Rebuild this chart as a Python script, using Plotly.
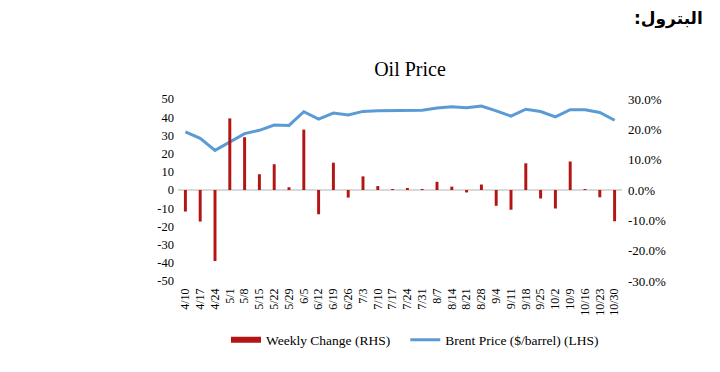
import plotly.graph_objects as go

weeks = ["4/10", "4/17", "4/24", "5/1", "5/8", "5/15", "5/22", "5/29", "6/5", "6/12",
         "6/19", "6/26", "7/3", "7/10", "7/17", "7/24", "7/31", "8/7", "8/14", "8/21",
         "8/28", "9/4", "9/11", "9/18", "9/25", "10/2", "10/9", "10/16", "10/23", "10/30"]

weekly_change = [-0.071, -0.104, -0.234, 0.236, 0.174, 0.052, 0.085, 0.009, 0.199, -0.080,
                 0.090, -0.025, 0.045, 0.013, 0.001, 0.005, 0.001, 0.027, 0.011, -0.008,
                 0.018, -0.052, -0.065, 0.088, -0.028, -0.061, 0.094, 0.001, -0.024, -0.103]

brent_price = [32.0, 28.4, 21.8, 26.6, 31.0, 32.8, 35.7, 35.5, 43.0, 39.0,
               42.3, 41.2, 43.2, 43.6, 43.8, 43.8, 43.8, 45.0, 45.7, 45.2,
               46.1, 43.5, 40.6, 44.4, 43.1, 40.2, 44.1, 44.1, 42.6, 38.3]

left_ticks = [-50, -40, -30, -20, -10, 0, 10, 20, 30, 40, 50]
left_labels = ["-50", "-40", "-30", "-20", "-10", "0", "10", "20", "30", "40", "50"]
right_ticks = [-0.3, -0.2, -0.1, 0.0, 0.1, 0.2, 0.3]
right_labels = ["-30.0%", "-20.0%", "-10.0%", "0.0%", "10.0%", "20.0%", "30.0%"]

serif = "Liberation Serif, Times New Roman, serif"
bar_color = "#B31515"
line_color = "#5B9BD5"

W, H = 712, 364  # page body has an 8px default margin

fig = go.Figure()
fig.add_trace(go.Bar(
    x=weeks, y=weekly_change, name="Weekly Change (RHS)", yaxis="y2", showlegend=False,
    marker=dict(color=bar_color, line=dict(width=0)), width=0.2,
))
# legend entry drawn as a wide rectangle, like the original
fig.add_trace(go.Scatter(
    x=[None], y=[None], name="Weekly Change (RHS)\u00a0\u00a0\u00a0", yaxis="y2",
    mode="lines", line=dict(color=bar_color, width=6),
))
fig.add_trace(go.Scatter(
    x=weeks, y=brent_price, name="Brent Price ($/barrel) (LHS)", yaxis="y",
    mode="lines", line=dict(color=line_color, width=3),
))

fig.update_layout(
    width=W, height=H,
    margin=dict(l=170, r=98, t=91, b=91, autoexpand=False),
    paper_bgcolor="white", plot_bgcolor="white",
    font=dict(family=serif, size=12.5, color="#000000"),
    title=dict(text="Oil Price", xref="container", x=402 / W, xanchor="center",
               yref="container", y=1 - 60.5 / H, yanchor="middle",
               font=dict(family=serif, size=20, color="#000000")),
    showlegend=True,
    legend=dict(orientation="h", xref="container", x=218 / W, xanchor="left",
                yref="container", y=1 - 332 / H, yanchor="middle",
                font=dict(family=serif, size=13.5), itemwidth=30,
                traceorder="normal"),
    xaxis=dict(type="category", tickangle=-90, showgrid=False, showline=False,
               tickmode="array", tickvals=weeks, ticktext=weeks,
               ticks="", ticklabelstandoff=4, tickfont=dict(family=serif, size=12)),
    yaxis=dict(range=[-50, 50], tickvals=left_ticks, ticktext=left_labels, showgrid=False,
               zeroline=True, zerolinecolor="#D9D9D9", zerolinewidth=1.5, ticks="",
               showline=False, ticklabelstandoff=3, tickfont=dict(family=serif, size=12.5)),
    yaxis2=dict(range=[-0.3, 0.3], tickvals=right_ticks, ticktext=right_labels,
                overlaying="y", side="right", showgrid=False, zeroline=False, ticks="",
                showline=False, ticklabelstandoff=5, tickfont=dict(family=serif, size=13)),
    annotations=[dict(text="<b>البترول:\u200f</b>", x=1.1867, y=1.4396, xref="paper", yref="paper",
                      showarrow=False, xanchor="right", yanchor="middle",
                      font=dict(family="DejaVu Sans", size=17, color="#000000"))],
)

fig.write_html("out.html")
